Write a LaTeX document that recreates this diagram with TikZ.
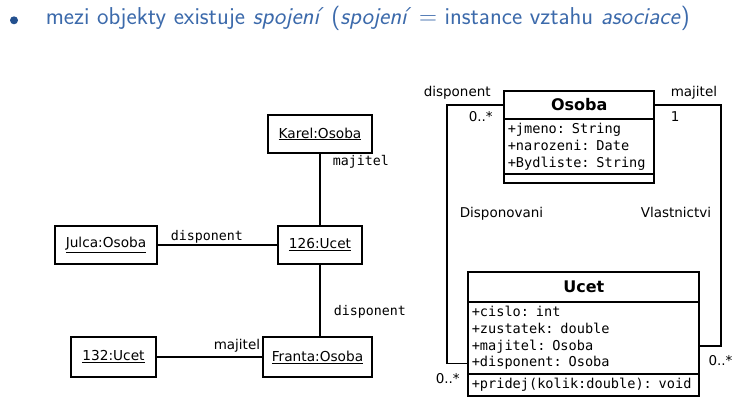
\documentclass[tikz,border=0pt]{standalone}
\usepackage{fontspec}
\newfontfamily\umlsans{DejaVu Sans}
\newfontfamily\umlmono{DejaVu Sans Mono}
\usetikzlibrary{positioning}
\definecolor{tblue}{HTML}{3C6AAB}
\definecolor{bblue}{HTML}{23508F}
\tikzset{
  every picture/.style={line width=1.6pt},
  obj/.style={draw, line width=1.8pt, inner sep=0pt, minimum height=38pt, font=\umlsans\fontsize{13.7}{15}\selectfont},
  link/.style={font=\umlmono\fontsize{13.3}{15}\selectfont, inner sep=0pt},
  role/.style={font=\umlsans\fontsize{13.5}{15}\selectfont, inner sep=0pt},
  chead/.style={draw, line width=1.8pt, inner sep=0pt, outer sep=0pt, minimum width=#1, font=\umlsans\bfseries\fontsize{16}{18}\selectfont},
  cpart/.style={draw, line width=1.8pt, inner xsep=3.5pt, inner ysep=0pt, outer sep=0pt, minimum width=#1, text width=#1-7pt, align=left, font=\umlmono\fontsize{13.6}{16.7}\selectfont},
}

\begin{document}
\begin{tikzpicture}[x=1pt, y=-1pt]
  \useasboundingbox (0,0) rectangle (755,414);
  % title line
  \node[circle, fill=bblue, inner sep=0pt, minimum size=8pt] (bullet) at (14,20.3) {};
  \node[anchor=base west, inner sep=0pt, text=tblue, font=\sffamily\fontsize{24.4}{28}\selectfont] (title) at (45,25)
    {mezi objekty existuje \textit{spojení} (\textit{spojení} $=$ instance vztahu \textit{asociace})};

  % object diagram
  \node[obj, minimum width=104pt] (karel) at (320,134) {\underline{Karel:Osoba}};
  \node[obj, minimum width=102pt] (julca) at (106,245) {\underline{Julca:Osoba}};
  \node[obj, minimum width=84pt] (u126) at (320,245) {\underline{126:Ucet}};
  \node[obj, minimum width=85pt, minimum height=40pt] (u132) at (113.5,357) {\underline{132:Ucet}};
  \node[obj, minimum width=109pt, minimum height=40pt] (franta) at (317.5,357) {\underline{Franta:Osoba}};
  \draw (karel.south) -- (karel.south |- u126.north);
  \draw (julca) -- (u126);
  \draw (u126.south) -- (u126.south |- franta.north);
  \draw (u132) -- (franta);
  \node[link, anchor=west] (l1) at (332,162) {majitel};
  \node[link, anchor=west] (l2) at (170,237) {disponent};
  \node[link, anchor=west] (l3) at (333,312) {disponent};
  \node[role, anchor=west] (l4) at (213,346) {majitel};

  % class diagram
  \node[chead=150pt, minimum height=28.6pt] (oHead) at (579.3,105) {Osoba};
  \node[cpart=150pt, minimum height=55pt, below=0pt of oHead] (oAttr)
    {+jmeno: String\\+narozeni: Date\\+Bydliste: String};
  \node[cpart=150pt, minimum height=8.4pt, below=0pt of oAttr] (oOps) {};
  \node[chead=231pt, minimum height=29.4pt] (uHead) at (583.8,287) {Ucet};
  \node[cpart=231pt, minimum height=72.6pt, below=0pt of uHead] (uAttr)
    {+cislo: int\\+zustatek: double\\+majitel: Osoba\\+disponent: Osoba};
  \node[cpart=231pt, minimum height=21.4pt, below=0pt of uAttr] (uOps) {+pridej(kolik:double): void};
  \coordinate (dispCorner) at (447,363.3);
  \coordinate (majCorner) at (721,346);
  \draw (oHead.west) -| (dispCorner) -- (dispCorner -| uAttr.west);
  \draw (oHead.east) -| (majCorner) -- (majCorner -| uAttr.east);
  \node[role, anchor=west] (r1) at (423,92.7) {disponent};
  \node[role, anchor=west] (m1) at (468,116.7) {0..*};
  \node[role, anchor=west] (r2) at (670,92.7) {majitel};
  \node[role, anchor=west] (m2) at (670,116.7) {1};
  \node[role, anchor=west] (a1) at (459,214) {Disponovani};
  \node[role, anchor=west] (a2) at (640,212.7) {Vlastnictvi};
  \node[role, anchor=west] (m3) at (435,378.3) {0..*};
  \node[role, anchor=west] (m4) at (707.7,360.7) {0..*};
\end{tikzpicture}
\end{document}
